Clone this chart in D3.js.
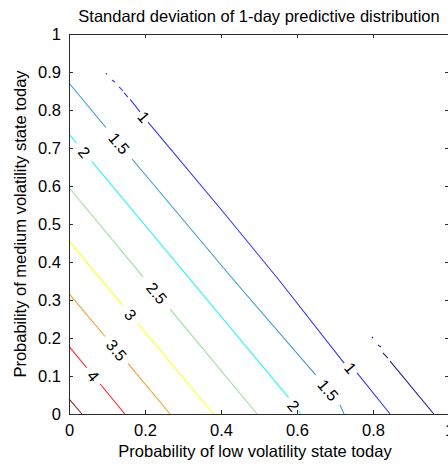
<!DOCTYPE html>
<html>
<head>
<meta charset="utf-8">
<script src="https://cdn.jsdelivr.net/npm/d3@7"></script>
<style>
  body { margin: 0; background: #fff; }
  svg text { font-family: "Liberation Sans", Arial, sans-serif; fill: #000; }
</style>
</head>
<body>
<div id="chart"></div>
<script>
// contour levels (std of 1-day predictive distribution)
var levels = [0.5, 1, 1.5, 2, 2.5, 3, 3.5, 4, 4.5];
var levelColors = ["#1f1f8f", "#3535f5", "#3a9ad0", "#2ef5f5", "#9ae09a", "#ffff22", "#f0a030", "#ff2020", "#8a2a2a"];

// visible contour pieces [p_low, p_medium]
var contourPieces = [
  { level: 4.5, pts: [[0, 0.040], [0.034, 0]] },
  { level: 4, pts: [[0, 0.178], [0.047, 0.121]] },
  { level: 4, pts: [[0.082, 0.079], [0.147, 0]] },
  { level: 3.5, pts: [[0, 0.317], [0.095, 0.204]] },
  { level: 3.5, pts: [[0.155, 0.133], [0.266, 0]] },
  { level: 3, pts: [[0, 0.455], [0.142, 0.285]] },
  { level: 3, pts: [[0.182, 0.237], [0.380, 0]] },
  { level: 2.5, pts: [[0, 0.596], [0.195, 0.361]] },
  { level: 2.5, pts: [[0.266, 0.276], [0.495, 0]] },
  { level: 2, pts: [[0, 0.737], [0.020, 0.713]] },
  { level: 2, pts: [[0.060, 0.665], [0.578, 0.043]] },
  { level: 2, pts: [[0.604, 0.008], [0.610, 0]] },
  { level: 1.5, pts: [[0, 0.871], [0.097, 0.754]] },
  { level: 1.5, pts: [[0.166, 0.671], [0.434, 0.352], [0.649, 0.103]] },
  { level: 1.5, pts: [[0.713, 0.024], [0.724, 0]] },
  { level: 1, pts: [[0.097, 0.897], [0.100, 0.894]] },
  { level: 1, pts: [[0.113, 0.879], [0.121, 0.873]] },
  { level: 1, pts: [[0.132, 0.861], [0.142, 0.850]] },
  { level: 1, pts: [[0.145, 0.845], [0.155, 0.834]] },
  { level: 1, pts: [[0.161, 0.828], [0.187, 0.795]] },
  { level: 1, pts: [[0.208, 0.768], [0.408, 0.529], [0.553, 0.352], [0.724, 0.134]] },
  { level: 1, pts: [[0.758, 0.108], [0.845, 0]] },
  { level: 0.5, pts: [[0.797, 0.203], [0.800, 0.200]] },
  { level: 0.5, pts: [[0.813, 0.182], [0.821, 0.176]] },
  { level: 0.5, pts: [[0.826, 0.161], [0.839, 0.147]] },
  { level: 0.5, pts: [[0.845, 0.139], [0.960, 0]] }
];

// inline contour labels
var labelText = ["1", "1", "1.5", "1.5", "2", "2", "2.5", "3", "3.5", "4"];
var labelPos = [[0.197, 0.782], [0.741, 0.121], [0.132, 0.712], [0.682, 0.063],
                [0.040, 0.689], [0.591, 0.022], [0.231, 0.318], [0.162, 0.261],
                [0.125, 0.168], [0.064, 0.100]];

var xTicks = [0, 0.2, 0.4, 0.6, 0.8, 1];
var yTicks = [0, 0.1, 0.2, 0.3, 0.4, 0.5, 0.6, 0.7, 0.8, 0.9, 1];

var svgWidth = 448;
var svgHeight = 464;
var margin = { top: 34, right: -1, bottom: 50, left: 69 };
var width = svgWidth - margin.left - margin.right;
var height = svgHeight - margin.top - margin.bottom;

var svg = d3.select("#chart")
    .append("svg")
    .attr("width", svgWidth)
    .attr("height", svgHeight);

var chartGroup = svg.append("g")
    .attr("transform", `translate(${margin.left}, ${margin.top})`);

var xScale = d3.scaleLinear().domain([0, 1]).range([0, width]);
var yScale = d3.scaleLinear().domain([0, 1]).range([height, 0]);
var color = d3.scaleOrdinal().domain(levels).range(levelColors);

var line = d3.line()
    .x(d => xScale(d[0]))
    .y(d => yScale(d[1]));

// contour lines
chartGroup.selectAll("path.contour")
    .data(contourPieces)
    .enter()
    .append("path")
    .attr("class", "contour")
    .attr("d", d => line(d.pts))
    .attr("fill", "none")
    .attr("stroke", d => color(d.level))
    .attr("stroke-width", 1.1);

// labels along the lines
chartGroup.selectAll("text.clabel")
    .data(labelPos)
    .enter()
    .append("text")
    .attr("class", "clabel")
    .attr("transform", d => `translate(${xScale(d[0])}, ${yScale(d[1])}) rotate(50)`)
    .attr("text-anchor", "middle")
    .attr("dy", "0.36em")
    .style("font-size", "16px")
    .text((d, i) => labelText[i]);

// axes, ticks inward on all four sides
var tickLen = 4;
var axisColor = "#2b2b2b";

var bottomAxis = chartGroup.append("g")
    .attr("transform", `translate(0, ${height})`)
    .call(d3.axisBottom(xScale).tickValues(xTicks).tickSizeInner(-tickLen).tickSizeOuter(0).tickPadding(8).tickFormat(d3.format("")));
var leftAxis = chartGroup.append("g")
    .call(d3.axisLeft(yScale).tickValues(yTicks).tickSizeInner(-tickLen).tickSizeOuter(0).tickPadding(8).tickFormat(d3.format("")));
var topAxis = chartGroup.append("g")
    .call(d3.axisTop(xScale).tickValues(xTicks).tickSizeInner(-tickLen).tickSizeOuter(0).tickFormat(""));
var rightAxis = chartGroup.append("g")
    .attr("transform", `translate(${width}, 0)`)
    .call(d3.axisRight(yScale).tickValues(yTicks).tickSizeInner(-tickLen).tickSizeOuter(0).tickFormat(""));

[bottomAxis, leftAxis, topAxis, rightAxis].forEach(function(a) {
    a.selectAll("path.domain").attr("stroke", axisColor);
    a.selectAll("line").attr("stroke", axisColor);
    a.selectAll("text")
        .style("font-size", "16.5px")
        .style("font-family", "'Liberation Sans', Arial, sans-serif")
        .attr("fill", "#111");
});
bottomAxis.selectAll("text").attr("dy", "0.85em");

// title
svg.append("text")
    .attr("x", margin.left + width / 2)
    .attr("y", 22)
    .attr("text-anchor", "middle")
    .style("font-size", "16.5px")
    .text("Standard deviation of 1-day predictive distribution");

// x label
svg.append("text")
    .attr("x", margin.left + width / 2 - 4)
    .attr("y", 457)
    .attr("text-anchor", "middle")
    .style("font-size", "16.5px")
    .text("Probability of low volatility state today");

// y label
svg.append("text")
    .attr("transform", `translate(26, ${margin.top + height / 2}) rotate(-90)`)
    .attr("text-anchor", "middle")
    .style("font-size", "16.5px")
    .text("Probability of medium volatility state today");
</script>
</body>
</html>
